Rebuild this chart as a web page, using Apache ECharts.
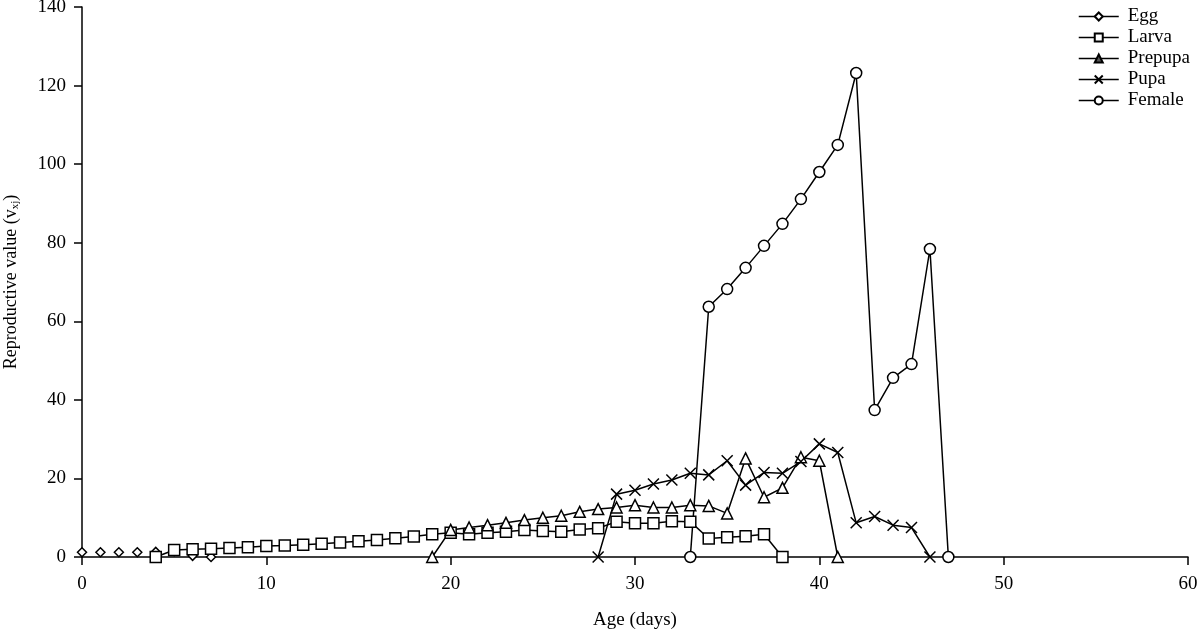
<!DOCTYPE html>
<html>
<head>
<meta charset="utf-8">
<script src="https://cdn.jsdelivr.net/npm/echarts@6/dist/echarts.min.js"></script>
<style>
  html, body { margin: 0; padding: 0; background: #fff; }
  #chartmain { width: 1200px; height: 629px; }
</style>
</head>
<body>
<div id="chartmain"></div>
<script>
var xTicks = [0, 10, 20, 30, 40, 50, 60];
var yTicks = [0, 20, 40, 60, 80, 100, 120, 140];

var eggDays = [0, 1, 2, 3, 4, 5, 6, 7];
var eggVals = [1.2, 1.2, 1.2, 1.2, 1.3, 1.5, 0.3, 0];

var larvaDays = [4, 5, 6, 7, 8, 9, 10, 11, 12, 13, 14, 15, 16, 17, 18, 19, 20, 21, 22, 23, 24, 25, 26, 27, 28, 29, 30, 31, 32, 33, 34, 35, 36, 37, 38];
var larvaVals = [0, 1.8, 2.0, 2.1, 2.3, 2.5, 2.8, 2.9, 3.1, 3.4, 3.7, 4.0, 4.3, 4.8, 5.2, 5.8, 6.2, 5.8, 6.2, 6.4, 6.9, 6.6, 6.4, 7.0, 7.3, 9.0, 8.6, 8.6, 9.1, 9.0, 4.7, 5.0, 5.3, 5.8, 0];

var prepupaDays = [19, 20, 21, 22, 23, 24, 25, 26, 27, 28, 29, 30, 31, 32, 33, 34, 35, 36, 37, 38, 39, 40, 41];
var prepupaVals = [0, 6.9, 7.5, 8.1, 8.7, 9.4, 10.0, 10.5, 11.5, 12.2, 12.6, 13.2, 12.6, 12.6, 13.2, 13.0, 11.1, 25.1, 15.2, 17.6, 25.4, 24.5, 0];

var pupaDays = [28, 29, 30, 31, 32, 33, 34, 35, 36, 37, 38, 39, 40, 41, 42, 43, 44, 45, 46];
var pupaVals = [0, 16.0, 17.0, 18.6, 19.6, 21.3, 20.9, 24.5, 18.3, 21.5, 21.3, 24.3, 28.8, 26.6, 8.7, 10.3, 8.1, 7.5, 0];

var femaleDays = [33, 34, 35, 36, 37, 38, 39, 40, 41, 42, 43, 44, 45, 46, 47];
var femaleVals = [0, 63.7, 68.2, 73.6, 79.2, 84.8, 91.1, 98.0, 104.9, 123.2, 37.4, 45.6, 49.1, 78.4, 0];

function pairs(days, vals) {
    return days.map(function (d, i) { return [d, vals[i]]; });
}

var font = 'Liberation Serif';
var crossPath = 'path://M0,0L10,10M10,0L0,10';

function mkSeries(name, days, vals, symbol, size, showLine) {
    return {
        name: name,
        type: 'line',
        data: pairs(days, vals),
        symbol: symbol,
        symbolSize: size,
        showAllSymbol: true,
        animation: false,
        lineStyle: { color: '#000', width: showLine ? 1.5 : 0, opacity: showLine ? 1 : 0 },
        itemStyle: { color: '#fff', borderColor: '#000', borderWidth: 1.5 }
    };
}

var myChart = echarts.init(document.getElementById('chartmain'));
var option = {
    backgroundColor: '#fff',
    animation: false,
    grid: { left: 82, right: 12, top: 7, bottom: 72, containLabel: false, outerBoundsMode: 'none' },
    legend: {
        orient: 'vertical',
        left: 1073,
        top: 2,
        itemWidth: 40,
        itemHeight: 10,
        itemGap: 2,
        textStyle: { fontFamily: font, fontSize: 19, color: '#000', padding: [0, 0, 0, 4] },
        lineStyle: { color: '#000', width: 1.5, opacity: 1 },
        data: [
            { name: 'Egg' },
            { name: 'Larva' },
            { name: 'Prepupa', itemStyle: { color: '#555' } },
            { name: 'Pupa' },
            { name: 'Female' }
        ]
    },
    xAxis: {
        type: 'value',
        min: xTicks[0],
        max: xTicks[xTicks.length - 1],
        interval: 10,
        name: 'Age (days)',
        nameLocation: 'middle',
        nameGap: 54,
        nameTextStyle: { fontFamily: font, fontSize: 19, color: '#000' },
        axisLine: { lineStyle: { color: '#000', width: 1.5 } },
        axisTick: { length: 8, lineStyle: { color: '#000', width: 1.5 } },
        axisLabel: { fontFamily: font, fontSize: 19, color: '#000', margin: 18 },
        splitLine: { show: false }
    },
    yAxis: {
        type: 'value',
        min: yTicks[0],
        max: yTicks[yTicks.length - 1],
        interval: 20,
        name: 'Reproductive value (v{sub|xj})',
        nameLocation: 'middle',
        nameGap: 61,
        nameTextStyle: {
            fontFamily: font, fontSize: 18, color: '#000',
            rich: { sub: { fontFamily: font, fontSize: 11, color: '#000', padding: [9, 0, 0, 0] } }
        },
        axisLine: { show: true, lineStyle: { color: '#000', width: 1.5 } },
        axisTick: { show: true, length: 8, lineStyle: { color: '#000', width: 1.5 } },
        axisLabel: { fontFamily: font, fontSize: 19, color: '#000', margin: 16 },
        splitLine: { show: false }
    },
    series: [
        mkSeries('Egg', eggDays, eggVals, 'diamond', 9, false),
        mkSeries('Larva', larvaDays, larvaVals, 'rect', 11, true),
        mkSeries('Prepupa', prepupaDays, prepupaVals, 'triangle', 11, true),
        mkSeries('Pupa', pupaDays, pupaVals, crossPath, 11, true),
        mkSeries('Female', femaleDays, femaleVals, 'circle', 11, true)
    ]
};
myChart.setOption(option);
</script>
</body>
</html>
